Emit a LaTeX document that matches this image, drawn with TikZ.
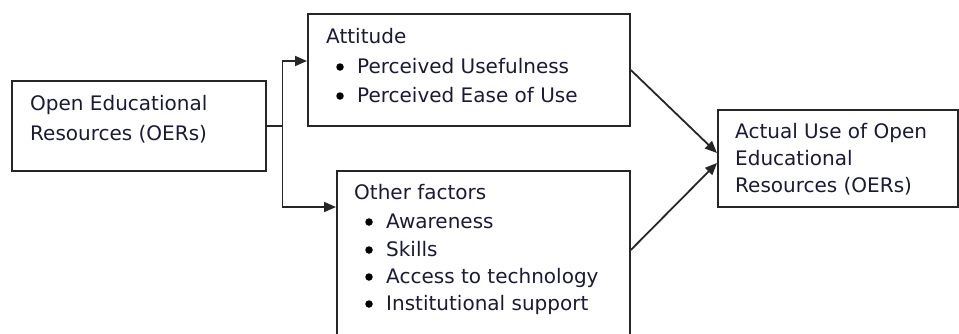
\documentclass[tikz,border=0pt]{standalone}
\usepackage{fontspec}
\setmainfont{DejaVu Sans}
\usetikzlibrary{arrows.meta,calc}
\definecolor{ink}{HTML}{1A1A38}
\begin{document}
\begin{tikzpicture}[x=1pt,y=-1pt,
  box/.style={draw=black!85,line width=1.8pt,inner sep=0pt,anchor=north west},
  txt/.style={inner sep=0pt,anchor=base west,text=ink,font=\fontsize{20}{24}\selectfont},
  bul/.style={circle,fill=black,inner sep=0pt,minimum size=7.5pt},
  conn/.style={draw=black!85,line width=1.8pt},
  arr/.style={conn,-{Triangle[length=12pt,width=10pt]}}]
\useasboundingbox (0,0) rectangle (959,333);
\clip (0,0) rectangle (959,333);
% boxes
\node[box,minimum width=254pt,minimum height=90pt] (oer) at (11,80) {};
\node[box,minimum width=322pt,minimum height=112pt] (att) at (307,13) {};
\node[box,minimum width=293pt,minimum height=180pt] (oth) at (336,170) {};
\node[box,minimum width=240pt,minimum height=97pt] (act) at (717,109) {};
% texts
\node[txt] (t1) at (30,110) {Open Educational};
\node[txt] (t2) at (30,140) {Resources (OERs)};
\node[txt] (a0) at (326,43) {Attitude};
\node[bul] (a1b) at (340,67) {};
\node[txt] (a1) at (357,73) {Perceived Usefulness};
\node[bul] (a2b) at (340,96) {};
\node[txt] (a2) at (357,102) {Perceived Ease of Use};
\node[txt] (o0) at (354,199) {Other factors};
\node[bul] (o1b) at (369,222) {};
\node[txt] (o1) at (386,228) {Awareness};
\node[bul] (o2b) at (369,250) {};
\node[txt] (o2) at (386,256) {Skills};
\node[bul] (o3b) at (369,277) {};
\node[txt] (o3) at (386,283) {Access to technology};
\node[bul] (o4b) at (369,304) {};
\node[txt] (o4) at (386,310) {Institutional support};
\node[txt] (c1) at (735,138) {Actual Use of Open};
\node[txt] (c2) at (735,165) {Educational};
\node[txt] (c3) at (735,192) {Resources (OERs)};
% connectors
\coordinate (j) at ($(oer.east)+(15.7,0)$);
\draw[conn] (oer.east) -- (j);
\draw[arr] (j) |- ($(att.north west)+(0,48)$);
\draw[arr] (j) |- ($(oth.north west)+(0,37)$);
\draw[arr] ($(att.north east)+(0,57)$) -- ($(act.north west)+(0,44)$);
\draw[arr] ($(oth.north east)+(0,80)$) -- ($(act.north west)+(0,54)$);
\end{tikzpicture}
\end{document}
